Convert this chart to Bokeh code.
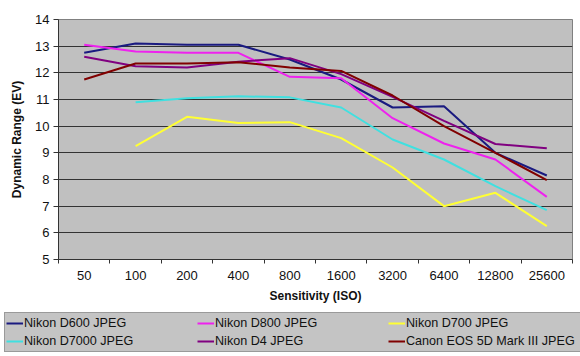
import numpy as np
from bokeh.plotting import figure
from bokeh.layouts import column
from bokeh.models import FixedTicker, Legend, LegendItem
from bokeh.embed import file_html
from bokeh.resources import INLINE

iso = ["50", "100", "200", "400", "800", "1600", "3200", "6400", "12800", "25600"]
d600 = [12.75, 13.1, 13.05, 13.05, 12.5, 11.75, 10.7, 10.75, 9.0, 8.15]
d800 = [13.05, 12.8, 12.75, 12.75, 11.85, 11.8, 10.3, 9.35, 8.75, 7.35]
d700 = [np.nan, 9.25, 10.35, 10.12, 10.15, 9.55, 8.45, 7.0, 7.5, 6.25]
d7000 = [np.nan, 10.9, 11.05, 11.12, 11.08, 10.7, 9.5, 8.75, 7.75, 6.85]
d4 = [12.6, 12.25, 12.2, 12.42, 12.55, 11.95, 11.1, 10.2, 9.33, 9.17]
canon = [11.75, 12.35, 12.35, 12.4, 12.2, 12.07, 11.15, 10.0, 9.0, 7.98]

series = [
    ("Nikon D600 JPEG", d600, "#1a1a80"),
    ("Nikon D800 JPEG", d800, "#ee22ee"),
    ("Nikon D700 JPEG", d700, "#ffff33"),
    ("Nikon D7000 JPEG", d7000, "#40e0e0"),
    ("Nikon D4 JPEG", d4, "#800080"),
    ("Canon EOS 5D Mark III JPEG", canon, "#800000"),
]

FONT = "Liberation Sans"

p = figure(width=580, height=306, output_backend="svg", toolbar_location=None,
           x_range=(0, len(iso)), y_range=(5, 14),
           min_border_left=58, min_border_right=8, min_border_top=19,
           min_border_bottom=47)
p.frame_align = False
p.background_fill_color = "#c0c0c0"
p.border_fill_color = "white"
p.outline_line_color = "#808080"

xs = [i + 0.5 for i in range(len(iso))]
for name, vals, col in series:
    p.line(xs, vals, line_color=col, line_width=2)

# x axis
p.xaxis.ticker = FixedTicker(ticks=xs, minor_ticks=list(range(len(iso) + 1)))
p.xaxis.major_label_overrides = {x: lab for x, lab in zip(xs, iso)}
p.xaxis.major_tick_out = 0
p.xaxis.major_tick_in = 0
p.xaxis.minor_tick_out = 4
p.xaxis.minor_tick_in = 0
p.xaxis.minor_tick_line_color = "#333333"
p.xaxis.axis_line_color = "#333333"
p.xaxis.major_label_standoff = 7
p.xaxis.major_label_text_font = FONT
p.xaxis.major_label_text_font_size = "13px"
p.xaxis.major_label_text_color = "#111111"
p.xaxis.axis_label = "Sensitivity (ISO)"
p.xaxis.axis_label_text_font = FONT
p.xaxis.axis_label_text_font_size = "12px"
p.xaxis.axis_label_text_font_style = "bold"
p.xaxis.axis_label_text_color = "#111111"
p.xaxis.axis_label_standoff = 6

# y axis
p.yaxis.ticker = FixedTicker(ticks=list(range(5, 15)))
p.yaxis.major_tick_out = 5
p.yaxis.major_tick_in = 0
p.yaxis.minor_tick_line_color = None
p.yaxis.major_tick_line_color = "#333333"
p.yaxis.axis_line_color = "#333333"
p.yaxis.major_label_standoff = 4
p.yaxis.major_label_text_font = FONT
p.yaxis.major_label_text_font_size = "13px"
p.yaxis.major_label_text_color = "#111111"
p.yaxis.axis_label = "Dynamic Range (EV)"
p.yaxis.axis_label_text_font = FONT
p.yaxis.axis_label_text_font_size = "12px"
p.yaxis.axis_label_text_font_style = "bold"
p.yaxis.axis_label_text_color = "#111111"
p.yaxis.axis_label_standoff = 8

p.xgrid.grid_line_color = None
p.ygrid.ticker = FixedTicker(ticks=list(range(6, 14)))
p.ygrid.grid_line_color = "#333333"
p.ygrid.grid_line_width = 1

# legend strip (separate figure below the chart)
lg = figure(width=580, height=50, output_backend="svg", toolbar_location=None,
            x_range=(100, 101), y_range=(100, 101),
            x_axis_type=None, y_axis_type=None,
            min_border_left=0, min_border_right=0, min_border_top=0,
            min_border_bottom=0, min_border=0)
lg.frame_align = False
lg.outline_line_color = None
lg.background_fill_color = "white"
lg.border_fill_color = "white"
items = []
for name, vals, col in series:
    r = lg.line(xs, vals, line_color=col, line_width=2)
    items.append(LegendItem(label=name, renderers=[r]))

legend = Legend(items=items, ncols=3, orientation="horizontal",
                location=(4, 4),
                glyph_width=17, glyph_height=18, label_height=18,
                label_width=173, label_standoff=1, spacing=0, padding=1,
                margin=0, title_standoff=0,
                label_text_font=FONT, label_text_font_size="12.6px",
                label_text_color="#111111",
                background_fill_color="#c4c4c4", background_fill_alpha=1,
                border_line_color="#6f6f6f", border_line_width=1)
lg.add_layout(legend, "center")

layout = column(p, lg, spacing=0)
open("out.html", "w").write(file_html(layout, INLINE))
